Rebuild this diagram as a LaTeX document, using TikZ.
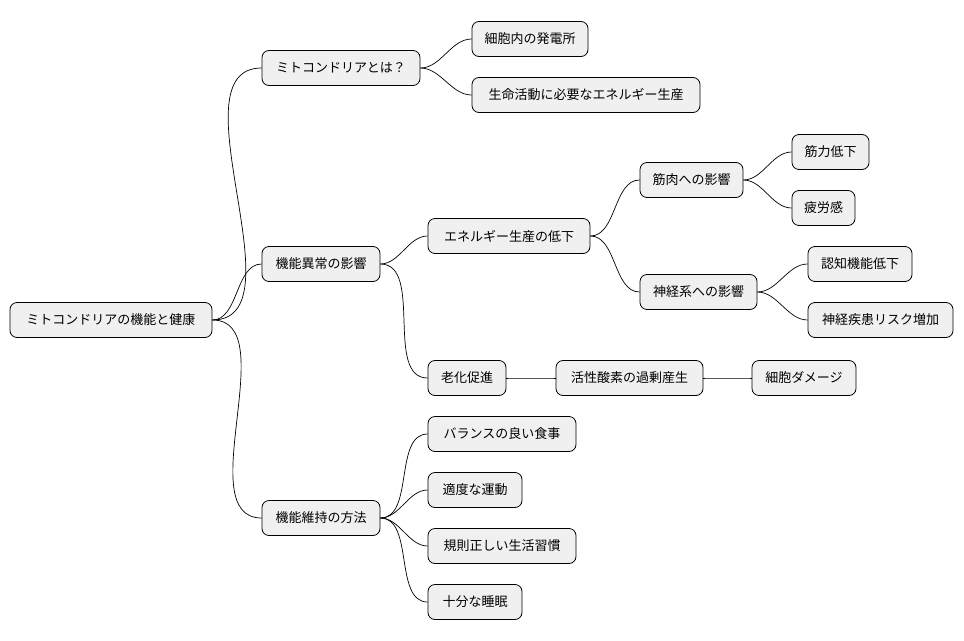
\documentclass[tikz,border=0pt]{standalone}
\usepackage{fontspec}
\setmainfont{Noto Sans CJK JP}
\begin{document}
\begin{tikzpicture}[x=1pt,y=-1pt,
  n/.style={draw=black,line width=0.8pt,fill=black!6,rounded corners=7pt,minimum height=35pt,inner xsep=0pt,font=\fontsize{13}{15}\selectfont,anchor=center},
  c/.style={line width=0.7pt,out=0,in=180,looseness=0.9}]
\useasboundingbox (0,0) rectangle (964,640);
\def\N(#1,#2,#3,#4,#5){\node[n,minimum width=#4-#3] (#1) at ({(#3+#4)/2},#2) {#5};}
\N(r,320,10,212,ミトコンドリアの機能と健康)
\N(a,68,262,420,ミトコンドリアとは？)
\N(b,264,262,380,機能異常の影響)
\N(c,518,262,380,機能維持の方法)
\N(a1,39,472,588,細胞内の発電所)
\N(a2,95,472,700,生命活動に必要なエネルギー生産)
\N(b1,236,428,590,エネルギー生産の低下)
\N(b2,378,428,506,老化促進)
\N(m,180,640,743,筋肉への影響)
\N(s,292,640,757,神経系への影響)
\N(m1,152,792,869,筋力低下)
\N(m2,208,792,855,疲労感)
\N(s1,264,808,912,認知機能低下)
\N(s2,320,808,953,神経疾患リスク増加)
\N(o1,378,556,703,活性酸素の過剰産生)
\N(o2,378,752,856,細胞ダメージ)
\N(c1,434,428,576,バランスの良い食事)
\N(c2,490,428,522,適度な運動)
\N(c3,546,428,576,規則正しい生活習慣)
\N(c4,602,428,522,十分な睡眠)
\foreach \p/\q in {r/a,r/b,r/c,a/a1,a/a2,b/b1,b/b2,b1/m,b1/s,m/m1,m/m2,s/s1,s/s2,b2/o1,o1/o2,c/c1,c/c2,c/c3,c/c4}
  \draw[c] (\p.east) to (\q.west);
\end{tikzpicture}
\end{document}
